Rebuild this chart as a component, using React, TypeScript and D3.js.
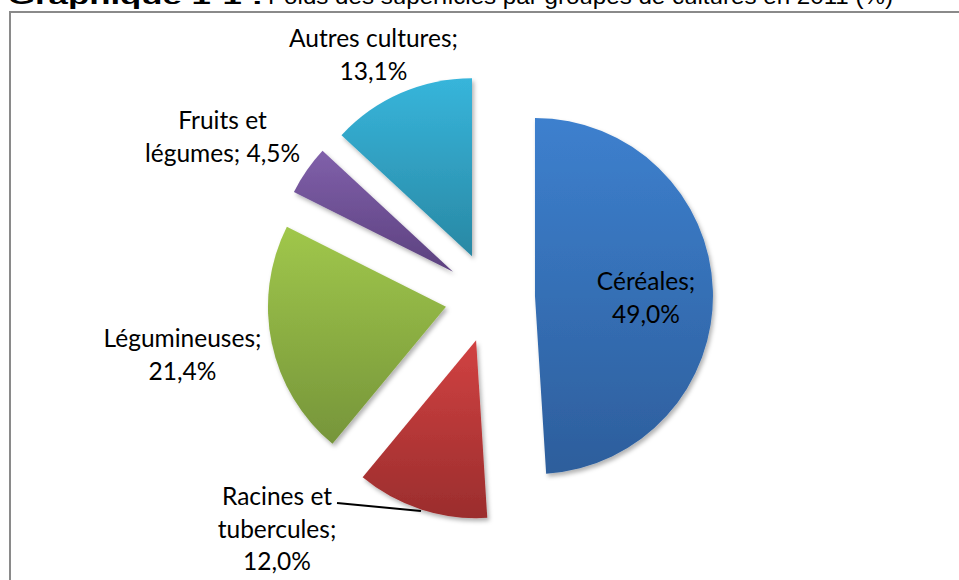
import React from "react";
import * as d3 from "d3";

const categories = ["Céréales", "Racines et tubercules", "Légumineuses", "Fruits et légumes", "Autres cultures"];
const values = [49.0, 12.0, 21.4, 4.5, 13.1];
const labelLines = [
  ["Céréales;", "49,0%"],
  ["Racines et", "tubercules;", "12,0%"],
  ["Légumineuses;", "21,4%"],
  ["Fruits et", "légumes; 4,5%"],
  ["Autres cultures;", "13,1%"],
];
const titleBold = "Graphique 1-1 :";
const titleRest = "Poids des superficies par groupes de cultures en 2011 (%)";

// layout (not data)
const W = 959, H = 580;
const CX = 490, CY = 297.4, R = 178, EXPLODE = 45;
const gradTop = ["#3d80ce", "#d14242", "#a0c74b", "#8060aa", "#37b5db"];
const gradBot = ["#2d5e9c", "#9b2d2d", "#76953a", "#5c417f", "#2988a4"];
const labelAnchor: [number, number][] = [
  [646, 290],
  [277, 505],
  [182.5, 347],
  [222.5, 129],
  [373.5, 47],
];
const LINE_H = 32.5;

export default function App() {
  const pie = d3.pie<number>().sort(null).value((d) => d).startAngle(0).endAngle(2 * Math.PI);
  const arcs = pie(values);
  const arc = d3.arc<d3.PieArcDatum<number>>().innerRadius(0).outerRadius(R);

  return (
    <svg width={W} height={H} style={{ position: "absolute", left: 0, top: 0, background: "#fff" }}>
      <defs>
        {arcs.map((_, i) => (
          <linearGradient key={i} id={`g${i}`} x1="0" y1="0" x2="0" y2="1">
            <stop offset="0" stopColor={gradTop[i]} />
            <stop offset="1" stopColor={gradBot[i]} />
          </linearGradient>
        ))}
        <filter id="sh" x="-20%" y="-20%" width="140%" height="140%">
          <feDropShadow dx="2" dy="3" stdDeviation="2.2" floodColor="#000" floodOpacity="0.3" />
        </filter>
      </defs>
      <rect width={W} height={H} fill="#fff" />
      <text x={8} y={4} fontFamily="Liberation Sans, Arial, sans-serif" fontSize={22} fontWeight="bold" fill="#000"
        textLength={255} lengthAdjust="spacingAndGlyphs">{titleBold}</text>
      <text x={268} y={4} fontFamily="Liberation Sans, Arial, sans-serif" fontSize={22} fill="#000"
        textLength={625} lengthAdjust="spacingAndGlyphs">{titleRest}</text>
      <rect x={10} y={12} width={1200} height={1200} fill="none" stroke="#8a8a8a" strokeWidth={2} />
      {arcs.map((a, i) => {
        const mid = (a.startAngle + a.endAngle) / 2;
        const dx = EXPLODE * Math.sin(mid);
        const dy = -EXPLODE * Math.cos(mid);
        return (
          <path key={categories[i]} d={arc(a) || ""} transform={`translate(${CX + dx},${CY + dy})`}
            fill={`url(#g${i})`} filter="url(#sh)" />
        );
      })}
      <line x1={337} y1={503} x2={421} y2={511} stroke="#000" strokeWidth={2} />
      {labelLines.map((lines, i) => (
        <text key={i} textAnchor="middle" fontFamily="Lato, 'Open Sans', sans-serif" fontSize={24.5} fill="#000">
          {lines.map((l, j) => (
            <tspan key={j} x={labelAnchor[i][0]} y={labelAnchor[i][1] + j * LINE_H}>{l}</tspan>
          ))}
        </text>
      ))}
    </svg>
  );
}
